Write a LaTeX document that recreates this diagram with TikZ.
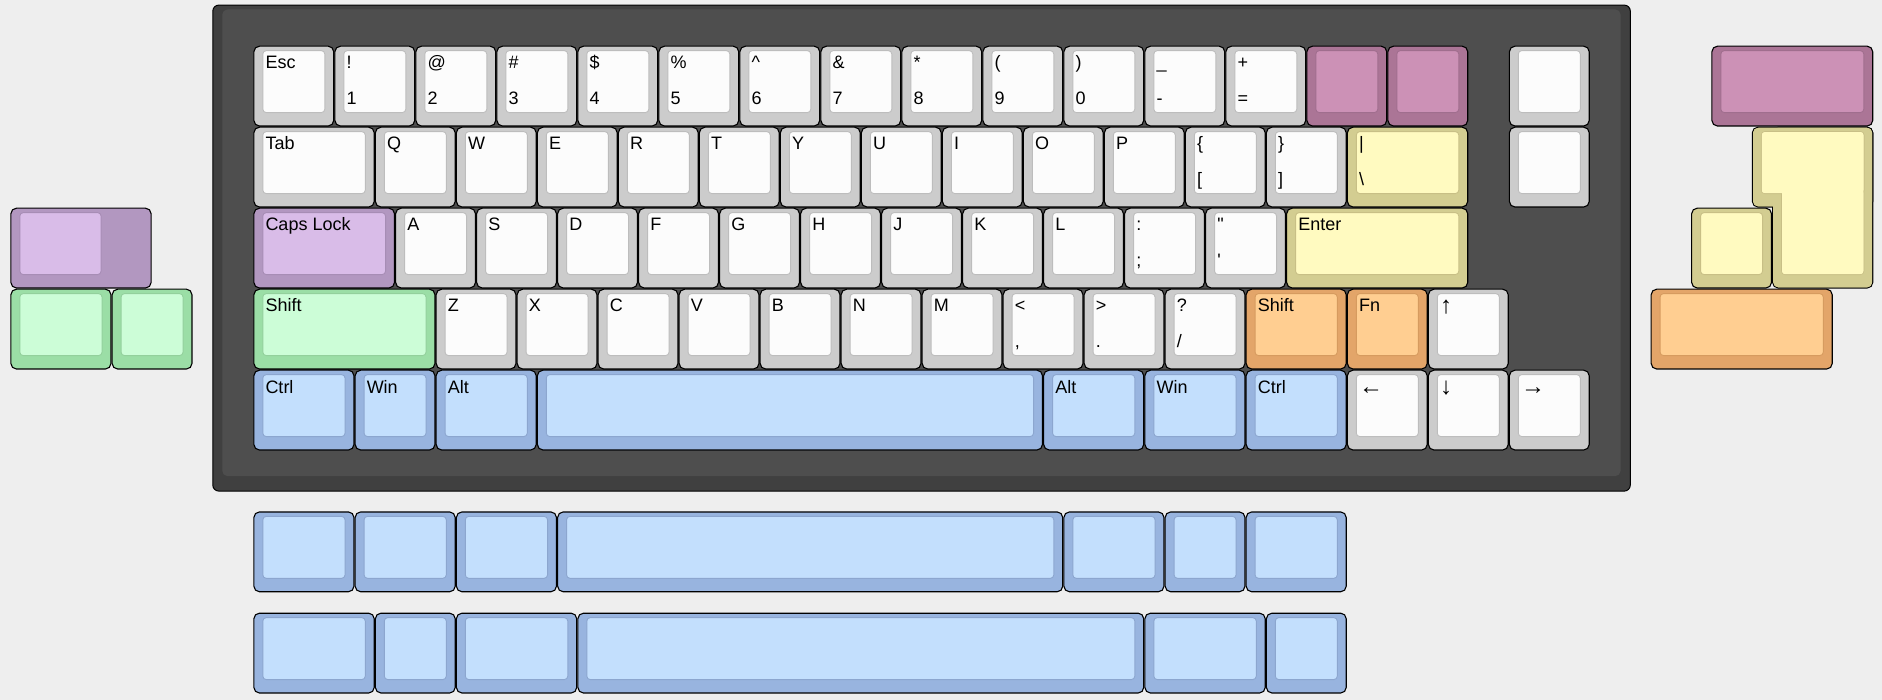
\documentclass[tikz,border=0pt]{standalone}
\usepackage{fontspec}
\newfontfamily\kf{Liberation Sans}
\newcommand\arw[1]{{\fontsize{24}{26}\selectfont\raisebox{-1.5pt}{#1}}}
\definecolor{bgC}{HTML}{EEEEEE}
\definecolor{caseO}{HTML}{404040}
\definecolor{caseI}{HTML}{4E4E4E}
\definecolor{grO}{HTML}{CCCCCC}\definecolor{grT}{HTML}{FCFCFC}\definecolor{grB}{HTML}{BDBDBD}
\definecolor{blO}{HTML}{98B4DF}\definecolor{blT}{HTML}{C3DFFD}\definecolor{blB}{HTML}{8CA6CF}
\definecolor{lvO}{HTML}{B297C0}\definecolor{lvT}{HTML}{D9BCE8}\definecolor{lvB}{HTML}{A78DB5}
\definecolor{gnO}{HTML}{9BDEA6}\definecolor{gnT}{HTML}{CCFDD7}\definecolor{gnB}{HTML}{93D09C}
\definecolor{orO}{HTML}{E3A569}\definecolor{orT}{HTML}{FFCE91}\definecolor{orB}{HTML}{D69B5F}
\definecolor{yeO}{HTML}{D3CD91}\definecolor{yeT}{HTML}{FFFAC0}\definecolor{yeB}{HTML}{C8BF86}
\definecolor{puO}{HTML}{AB7596}\definecolor{puT}{HTML}{CC91B6}\definecolor{puB}{HTML}{A06E8E}
\tikzset{
  keyout/.style={draw=black, line width=1.1pt, rounded corners=5.5pt},
  keyin/.style={line width=0.9pt, rounded corners=3.5pt},
  legend/.style={font=\kf\fontsize{18}{21}\selectfont, anchor=base west, inner sep=0pt, text=black},
}
\newcount\kc
% x y w h colour top bottom
\newcommand\keybox[7]{%
  \global\advance\kc by 1
  \pgfmathsetmacro\kL{253.3+(#1)*81}%
  \pgfmathsetmacro\kT{45.6+(#2)*81}%
  \pgfmathsetmacro\kR{253.3+(#1+#3)*81}%
  \pgfmathsetmacro\kB{45.6+(#2+#4)*81}%
  \filldraw[keyout, fill=#5O] (\kL+0.6,\kT+0.6) rectangle (\kR-0.6,\kB-0.6);
  \filldraw[keyin, fill=#5T, draw=#5B] (\kL+9.5,\kT+5) rectangle (\kR-9.5,\kB-14);
  \node[legend] (k\the\kc t) at (\kL+12,\kT+23.4) {#6};
  \node[legend] (k\the\kc b) at (\kL+12,\kB-21.6) {#7};
}
\begin{document}
\begin{tikzpicture}[x=1pt,y=-1pt]
\useasboundingbox (0,0) rectangle (1882,700);
\fill[bgC] (0,0) rectangle (1882,700);
% case
\filldraw[fill=caseO, draw=black, line width=1pt, rounded corners=6pt] (212.8,5.1) rectangle (1630.3,491.1);
\fill[caseI, rounded corners=5pt] (222.3,9.5) rectangle (1620.5,476.0);
% row 0
\keybox{0}{0}{1}{1}{gr}{Esc}{}
\keybox{1}{0}{1}{1}{gr}{!}{1}
\keybox{2}{0}{1}{1}{gr}{@}{2}
\keybox{3}{0}{1}{1}{gr}{\#}{3}
\keybox{4}{0}{1}{1}{gr}{\$}{4}
\keybox{5}{0}{1}{1}{gr}{\%}{5}
\keybox{6}{0}{1}{1}{gr}{\textasciicircum}{6}
\keybox{7}{0}{1}{1}{gr}{\&}{7}
\keybox{8}{0}{1}{1}{gr}{*}{8}
\keybox{9}{0}{1}{1}{gr}{(}{9}
\keybox{10}{0}{1}{1}{gr}{)}{0}
\keybox{11}{0}{1}{1}{gr}{\_}{-}
\keybox{12}{0}{1}{1}{gr}{+}{=}
\keybox{13}{0}{1}{1}{pu}{}{}
\keybox{14}{0}{1}{1}{pu}{}{}
\keybox{15.5}{0}{1}{1}{gr}{}{}
% row 1
\keybox{0}{1}{1.5}{1}{gr}{Tab}{}
\keybox{1.5}{1}{1}{1}{gr}{Q}{}
\keybox{2.5}{1}{1}{1}{gr}{W}{}
\keybox{3.5}{1}{1}{1}{gr}{E}{}
\keybox{4.5}{1}{1}{1}{gr}{R}{}
\keybox{5.5}{1}{1}{1}{gr}{T}{}
\keybox{6.5}{1}{1}{1}{gr}{Y}{}
\keybox{7.5}{1}{1}{1}{gr}{U}{}
\keybox{8.5}{1}{1}{1}{gr}{I}{}
\keybox{9.5}{1}{1}{1}{gr}{O}{}
\keybox{10.5}{1}{1}{1}{gr}{P}{}
\keybox{11.5}{1}{1}{1}{gr}{\{}{[}
\keybox{12.5}{1}{1}{1}{gr}{\}}{]}
\keybox{13.5}{1}{1.5}{1}{ye}{\textbar}{\textbackslash}
\keybox{15.5}{1}{1}{1}{gr}{}{}
% row 2
\keybox{0}{2}{1.75}{1}{lv}{Caps Lock}{}
\keybox{1.75}{2}{1}{1}{gr}{A}{}
\keybox{2.75}{2}{1}{1}{gr}{S}{}
\keybox{3.75}{2}{1}{1}{gr}{D}{}
\keybox{4.75}{2}{1}{1}{gr}{F}{}
\keybox{5.75}{2}{1}{1}{gr}{G}{}
\keybox{6.75}{2}{1}{1}{gr}{H}{}
\keybox{7.75}{2}{1}{1}{gr}{J}{}
\keybox{8.75}{2}{1}{1}{gr}{K}{}
\keybox{9.75}{2}{1}{1}{gr}{L}{}
\keybox{10.75}{2}{1}{1}{gr}{:}{;}
\keybox{11.75}{2}{1}{1}{gr}{"}{'}
\keybox{12.75}{2}{2.25}{1}{ye}{Enter}{}
% row 3
\keybox{0}{3}{2.25}{1}{gn}{Shift}{}
\keybox{2.25}{3}{1}{1}{gr}{Z}{}
\keybox{3.25}{3}{1}{1}{gr}{X}{}
\keybox{4.25}{3}{1}{1}{gr}{C}{}
\keybox{5.25}{3}{1}{1}{gr}{V}{}
\keybox{6.25}{3}{1}{1}{gr}{B}{}
\keybox{7.25}{3}{1}{1}{gr}{N}{}
\keybox{8.25}{3}{1}{1}{gr}{M}{}
\keybox{9.25}{3}{1}{1}{gr}{<}{,}
\keybox{10.25}{3}{1}{1}{gr}{>}{.}
\keybox{11.25}{3}{1}{1}{gr}{?}{/}
\keybox{12.25}{3}{1.25}{1}{or}{Shift}{}
\keybox{13.5}{3}{1}{1}{or}{Fn}{}
\keybox{14.5}{3}{1}{1}{gr}{\arw{↑}}{}
% row 4
\keybox{0}{4}{1.25}{1}{bl}{Ctrl}{}
\keybox{1.25}{4}{1}{1}{bl}{Win}{}
\keybox{2.25}{4}{1.25}{1}{bl}{Alt}{}
\keybox{3.5}{4}{6.25}{1}{bl}{}{}
\keybox{9.75}{4}{1.25}{1}{bl}{Alt}{}
\keybox{11}{4}{1.25}{1}{bl}{Win}{}
\keybox{12.25}{4}{1.25}{1}{bl}{Ctrl}{}
\keybox{13.5}{4}{1}{1}{gr}{\arw{←}}{}
\keybox{14.5}{4}{1}{1}{gr}{\arw{↓}}{}
\keybox{15.5}{4}{1}{1}{gr}{\arw{→}}{}
% left extras: stepped caps lock
\filldraw[keyout, fill=lvO] (10.9,208.2) rectangle (151.1,288.0);
\filldraw[keyin, fill=lvT, draw=lvB] (19.8,212.6) rectangle (101.1,274.6);
\keybox{-3}{3}{1.25}{1}{gn}{}{}
\keybox{-1.75}{3}{1}{1}{gn}{}{}
% right extras
\keybox{18}{0}{2}{1}{pu}{}{}
\keybox{17.75}{2}{1}{1}{ye}{}{}
% ISO enter
\filldraw[keyout, fill=yeO] (1772.65,127.2) rectangle (1872.7,288.0);
\filldraw[keyout, fill=yeO] (1752.4,127.2) rectangle (1872.7,207.0);
\fill[yeO, rounded corners=5pt] (1773.2,127.8) rectangle (1872.1,287.4);
\fill[yeO, rounded corners=5pt] (1753.0,127.8) rectangle (1872.1,206.4);
\filldraw[keyin, fill=yeT, draw=yeB] (1781.55,131.6) rectangle (1863.8,274.6);
\filldraw[keyin, fill=yeT, draw=yeB] (1761.3,131.6) rectangle (1863.8,193.6);
\fill[yeT, rounded corners=3pt] (1782.0,132.05) rectangle (1863.35,274.15);
\fill[yeT, rounded corners=3pt] (1761.75,132.05) rectangle (1863.35,193.15);
\keybox{17.25}{3}{2.25}{1}{or}{}{}
% bottom spare rows
\keybox{0}{5.75}{1.25}{1}{bl}{}{}
\keybox{1.25}{5.75}{1.25}{1}{bl}{}{}
\keybox{2.5}{5.75}{1.25}{1}{bl}{}{}
\keybox{3.75}{5.75}{6.25}{1}{bl}{}{}
\keybox{10}{5.75}{1.25}{1}{bl}{}{}
\keybox{11.25}{5.75}{1}{1}{bl}{}{}
\keybox{12.25}{5.75}{1.25}{1}{bl}{}{}
\keybox{0}{7}{1.5}{1}{bl}{}{}
\keybox{1.5}{7}{1}{1}{bl}{}{}
\keybox{2.5}{7}{1.5}{1}{bl}{}{}
\keybox{4}{7}{7}{1}{bl}{}{}
\keybox{11}{7}{1.5}{1}{bl}{}{}
\keybox{12.5}{7}{1}{1}{bl}{}{}
\end{tikzpicture}
\end{document}
